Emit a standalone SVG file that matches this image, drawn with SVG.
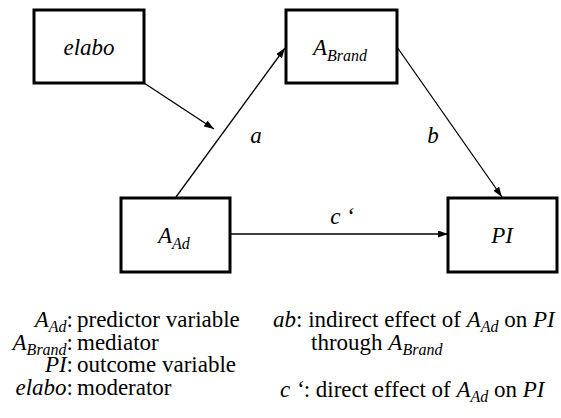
<svg xmlns="http://www.w3.org/2000/svg" width="561" height="418" viewBox="0 0 561 418" font-family="'Liberation Serif', 'Times New Roman', serif">
<style>
text{font-family:'Liberation Serif','Times New Roman',serif;font-size:23px;fill:#000}
.i{font-style:italic}
.sub{font-style:italic;font-size:16px}
.box{fill:#fff;stroke:#000;stroke-width:3}
.edge{stroke:#000;stroke-width:1.3;fill:none;marker-end:url(#ah)}
</style>
<defs>
<marker id="ah" markerUnits="userSpaceOnUse" markerWidth="11" markerHeight="8" refX="10" refY="3.5" orient="auto">
<path d="M0,0 L10,3.5 L0,7 z" fill="#000"/>
</marker>
</defs>
<rect width="561" height="418" fill="#fff"/>
<g id="connectors">
<line class="edge" x1="144" y1="83" x2="214" y2="129"/>
<line class="edge" x1="176" y1="197" x2="285" y2="48"/>
<line class="edge" x1="397" y1="47" x2="502" y2="197"/>
<line class="edge" x1="230" y1="234" x2="448" y2="234"/>
<text class="i" x="256" y="143" text-anchor="middle">a</text>
<text class="i" x="433" y="143" text-anchor="middle">b</text>
<text class="i" x="342" y="224" text-anchor="middle">c ‘</text>
</g>
<g id="elabo">
<rect class="box" x="34" y="10" width="110" height="73"/>
<text class="i" x="89" y="55" text-anchor="middle">elabo</text>
</g>
<g id="abrand">
<rect class="box" x="286" y="10" width="111" height="73"/>
<text x="313" y="55"><tspan class="i">A</tspan><tspan class="sub" dy="6">Brand</tspan></text>
</g>
<g id="aad">
<rect class="box" x="121" y="198" width="109" height="74"/>
<text x="158" y="243"><tspan class="i">A</tspan><tspan class="sub" dy="6">Ad</tspan></text>
</g>
<g id="pi">
<rect class="box" x="448" y="198" width="109" height="74"/>
<text class="i" x="502" y="243" text-anchor="middle">PI</text>
</g>
<g id="legend">
<text x="73" y="327" text-anchor="end"><tspan class="i">A</tspan><tspan class="sub" dy="5">Ad</tspan><tspan dy="-5">:</tspan><tspan x="77" text-anchor="start">predictor variable</tspan></text>
<text x="73" y="349.5" text-anchor="end"><tspan class="i">A</tspan><tspan class="sub" dy="5">Brand</tspan><tspan dy="-5">:</tspan><tspan x="77" text-anchor="start">mediator</tspan></text>
<text x="73" y="372" text-anchor="end"><tspan class="i">PI</tspan>:<tspan x="77" text-anchor="start">outcome variable</tspan></text>
<text x="73" y="394.5" text-anchor="end"><tspan class="i">elabo</tspan>:<tspan x="77" text-anchor="start">moderator</tspan></text>
<text x="273" y="327"><tspan class="i">ab</tspan>: indirect effect of <tspan class="i">A</tspan><tspan class="sub" dy="5">Ad</tspan><tspan dy="-5"> on </tspan><tspan class="i">PI</tspan></text>
<text x="311" y="350">through <tspan class="i">A</tspan><tspan class="sub" dy="5">Brand</tspan></text>
<text x="280" y="397"><tspan class="i">c ‘</tspan>: direct effect of <tspan class="i">A</tspan><tspan class="sub" dy="5">Ad</tspan><tspan dy="-5"> on </tspan><tspan class="i">PI</tspan></text>
</g>
</svg>
